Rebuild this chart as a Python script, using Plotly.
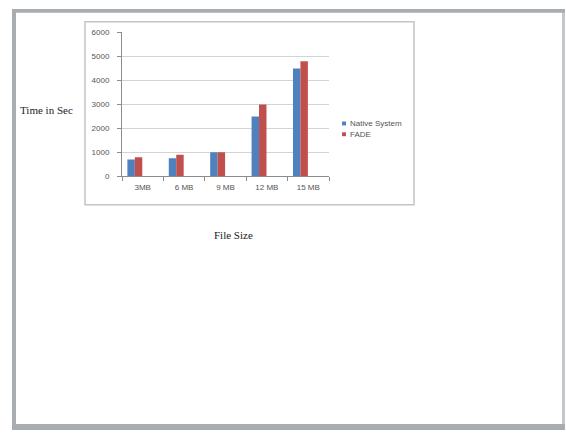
import plotly.graph_objects as go

W, H = 566, 435

file_sizes = ["3MB", "6 MB", "9 MB", "12 MB", "15 MB"]
native_system = [700, 750, 1000, 2500, 4500]
fade = [800, 900, 1000, 3000, 4800]
series_names = ["Native System", "FADE"]
series_colors = ["#4F81BD", "#C0504D"]
y_ticks = [0, 1000, 2000, 3000, 4000, 5000, 6000]


def px(x):
    return x / W


def py(y):
    return 1 - y / H


fig = go.Figure()
for name, vals, color, off in zip(series_names, [native_system, fade],
                                   series_colors, [-0.37, -0.19]):
    fig.add_trace(go.Bar(
        x=file_sizes, y=vals, name=name, marker_color=color,
        marker_line_width=0, width=0.18, offset=off, showlegend=False,
    ))

shapes = [
    # page frame
    dict(type="rect", xref="paper", yref="paper", x0=px(12), x1=px(565),
         y0=py(435), y1=py(5), fillcolor="#a9adb1", line_width=0, layer="below"),
    dict(type="rect", xref="paper", yref="paper", x0=px(562), x1=px(565),
         y0=py(429), y1=py(9), fillcolor="#c4c7ca", line_width=0, layer="below"),
    dict(type="rect", xref="paper", yref="paper", x0=px(16), x1=px(562),
         y0=py(429), y1=py(9), fillcolor="white", line_width=0, layer="below"),
    # chart box
    dict(type="rect", xref="paper", yref="paper", x0=px(85), x1=px(414),
         y0=py(205), y1=py(18), fillcolor="rgba(0,0,0,0)",
         line=dict(color="#c4c4c4", width=1.5), layer="below"),
]

annotations = [
    dict(text="Time in Sec", x=px(46), y=py(108), xref="paper", yref="paper",
         showarrow=False, xanchor="center", yanchor="middle",
         font=dict(family="Liberation Serif", size=11, color="#222")),
    dict(text="File Size", x=px(233), y=py(236), xref="paper", yref="paper",
         showarrow=False, xanchor="center", yanchor="middle",
         font=dict(family="Liberation Serif", size=11, color="#222")),
]

# legend swatches and labels
for i, (name, color) in enumerate(zip(series_names, series_colors)):
    cy = 122 + i * 11
    shapes.append(dict(type="rect", xref="paper", yref="paper",
                       x0=px(342), x1=px(346), y0=py(cy + 2), y1=py(cy - 2),
                       fillcolor=color, line_width=0))
    annotations.append(dict(text=name, x=px(348), y=py(cy), xref="paper",
                            yref="paper", showarrow=False, xanchor="left",
                            yanchor="middle",
                            font=dict(family="Liberation Sans", size=8,
                                      color="#555")))

fig.update_layout(
    width=W, height=H,
    margin=dict(l=0, r=0, t=0, b=0),
    paper_bgcolor="white",
    plot_bgcolor="rgba(0,0,0,0)",
    barmode="overlay",
    shapes=shapes,
    annotations=annotations,
    xaxis=dict(
        domain=[px(122), px(329)],
        type="category",
        tickson="boundaries",
        ticks="outside", ticklen=4, tickcolor="#8c8c8c",
        showline=True, linecolor="#8c8c8c", linewidth=1,
        showgrid=False,
        ticklabelstandoff=3,
        tickfont=dict(family="Liberation Sans", size=8, color="#555"),
        fixedrange=True,
    ),
    yaxis=dict(
        domain=[py(176), py(29)],
        range=[0, 6000],
        tickvals=y_ticks,
        ticks="outside", ticklen=4, tickcolor="#8c8c8c",
        showline=True, linecolor="#8c8c8c", linewidth=1,
        showgrid=True, gridcolor="#d4d4d4", gridwidth=1,
        zeroline=False,
        ticklabelstandoff=6,
        tickfont=dict(family="Liberation Sans", size=8, color="#555"),
        fixedrange=True,
    ),
)

fig.write_html("out.html")
